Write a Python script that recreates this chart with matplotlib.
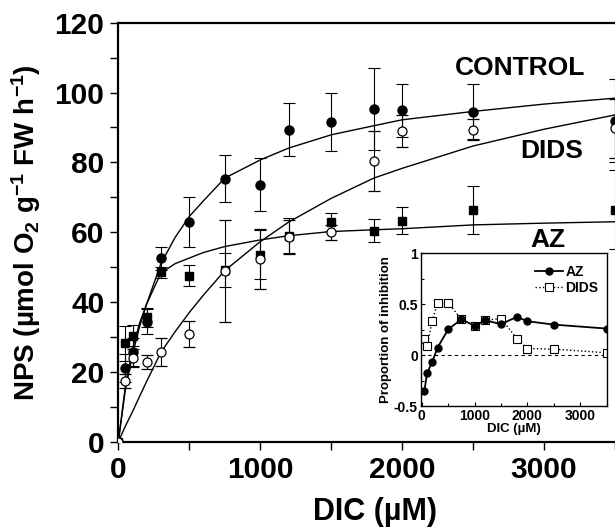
import numpy as np
import matplotlib
matplotlib.use("Agg")
import matplotlib.pyplot as plt
from matplotlib.ticker import MultipleLocator

plt.rcParams['font.family'] = ['Liberation Sans', 'DejaVu Sans']
plt.rcParams['font.weight'] = 'bold'
plt.rcParams['mathtext.default'] = 'regular'

# measured NPS, umol O2 g-1 FW h-1
dic = [0, 50, 100, 200, 300, 500, 750, 1000, 1200, 1500, 1800, 2000, 2500, 3500]
control = [0, 21.0, 25.8, 34.4, 52.6, 62.9, 75.3, 73.6, 89.4, 91.6, 95.3, 94.9, 94.5, 92.0]
control_err = [0, 4.0, 4.0, 3.5, 3.3, 7.1, 6.7, 7.6, 7.6, 8.2, 11.7, 7.6, 7.9, 11.8]
az = [0, 28.2, 30.3, 35.6, 48.5, 47.5, 49.2, 53.5, 59.0, 62.9, 60.4, 63.3, 66.4, 66.5]
az_err = [0, 5.0, 3.0, 2.7, 1.5, 3.0, 4.8, 7.0, 5.0, 2.5, 3.3, 3.9, 6.9, 11.3]
dids = [0, 17.5, 24.0, 22.8, 25.7, 30.9, 49.0, 52.3, 58.6, 60.0, 80.4, 89.0, 89.3, 89.8]
dids_err = [0, 2.0, 2.5, 2.0, 4.0, 3.7, 14.6, 8.5, 4.8, 2.2, 8.6, 4.5, 3.0, 8.5]

# fitted curves
fit_x = [0, 50, 100, 150, 200, 300, 400, 500, 600, 750, 1000, 1200, 1500, 1800, 2000, 2500, 3000, 3500]
control_fit = [0, 15, 25, 33, 39.5, 51, 58.5, 64.5, 69, 75.5, 80.7, 84.1, 87.9, 90.5, 92.2, 94.6, 96.7, 98.4]
az_fit = [0, 16, 26.5, 34, 39.5, 48.3, 51, 52.6, 54.2, 55.9, 57.8, 59.0, 60.2, 60.7, 61.0, 62.1, 62.6, 63.0]
dids_fit = [0, 4.5, 8.6, 13, 17.3, 25.6, 31.5, 37, 42, 49, 57.3, 62.9, 69.7, 75.5, 78.3, 84.7, 89.5, 93.6]

# inset: proportion of inhibition
inh_x = [50, 100, 200, 300, 500, 750, 1000, 1200, 1500, 1800, 2000, 2500, 3500]
inh_az = [-0.353, -0.18, -0.065, 0.075, 0.252, 0.353, 0.288, 0.343, 0.304, 0.376, 0.333, 0.30, 0.261]
inh_dids = [0.16, 0.088, 0.337, 0.516, 0.516, 0.353, 0.288, 0.343, 0.36, 0.163, 0.065, 0.059, 0.023]

fig = plt.figure(figsize=(6.15, 5.29), dpi=100)
ax = fig.add_axes([0.1924, 0.165, 0.8076, 0.792])

ax.plot(fit_x, control_fit, color='black', lw=1.0, zorder=2)
ax.plot(fit_x, az_fit, color='black', lw=1.0, zorder=2)
ax.plot(fit_x, dids_fit, color='black', lw=1.0, zorder=2)

ekw = dict(ecolor='black', elinewidth=0.8, capsize=4, capthick=0.8, ls='none', zorder=3)
ax.errorbar(dic, control, yerr=control_err, fmt='o', mfc='black', mec='black', ms=6.5, **ekw)
ax.errorbar(dic, az, yerr=az_err, fmt='s', mfc='black', mec='black', ms=6, **ekw)
ax.errorbar(dic, dids, yerr=dids_err, fmt='o', mfc='white', mec='black', mew=0.9, ms=6.5, **ekw)

ax.set_xlim(0, 3500)
ax.set_ylim(0, 120)
ax.xaxis.set_major_locator(MultipleLocator(1000))
ax.xaxis.set_minor_locator(MultipleLocator(500))
ax.yaxis.set_major_locator(MultipleLocator(20))
ax.yaxis.set_minor_locator(MultipleLocator(10))
ax.tick_params(which='both', direction='out', width=1, labelsize=21.5, top=False, right=False)
ax.tick_params(which='major', length=6, pad=4)
ax.tick_params(which='minor', length=6)
for s in ['left', 'bottom', 'top']:
    ax.spines[s].set_linewidth(1.6)
ax.spines['right'].set_visible(False)
for lab in ax.get_xticklabels() + ax.get_yticklabels():
    lab.set_fontweight('bold')

ax.set_xlabel('DIC (µM)', fontsize=22, fontweight='bold')
ax.xaxis.set_label_coords(0.517, -0.133)
ax.set_ylabel('NPS (µmol O$_2$ g$^{-1}$ FW h$^{-1}$)', fontsize=20, fontweight='bold', labelpad=8)

ax.text(2829, 107.1, 'CONTROL', fontsize=19, fontweight='bold', ha='center', va='center')
ax.text(3052, 83.3, 'DIDS', fontsize=19, fontweight='bold', ha='center', va='center')
ax.text(3026, 57.7, 'AZ', fontsize=19, fontweight='bold', ha='center', va='center')

# inset
ins = fig.add_axes([0.684, 0.2325, 0.3025, 0.2885])
ins.axhline(0, color='black', lw=0.8, ls=(0, (3, 3)), zorder=1)
ins.plot(inh_x, inh_az, color='black', lw=1.3, marker='o', ms=5, mfc='black', label='AZ', zorder=3)
ins.plot(inh_x, inh_dids, color='black', lw=1.0, ls=':', marker='s', ms=6,
         mfc='white', mec='black', mew=0.8, label='DIDS', zorder=2)
ins.set_xlim(-20, 3500)
ins.set_ylim(-0.5, 1)
ins.set_xticks([0, 1000, 2000, 3000])
ins.set_yticks([-0.5, 0, 0.5, 1])
ins.set_yticklabels(['-0.5', '0', '0.5', '1'])
ins.xaxis.set_minor_locator(MultipleLocator(500))
ins.yaxis.set_minor_locator(MultipleLocator(0.25))
ins.tick_params(which='both', direction='in', width=0.8, labelsize=10, pad=2)
ins.tick_params(which='major', length=3)
ins.tick_params(which='minor', length=2)
for s in ins.spines.values():
    s.set_linewidth(1.0)
for lab in ins.get_xticklabels() + ins.get_yticklabels():
    lab.set_fontweight('bold')
ins.set_xlabel('DIC (µM)', fontsize=9.5, fontweight='bold', labelpad=0)
ins.set_ylabel('Proportion of inhibition', fontsize=9.5, fontweight='bold', labelpad=1)
leg = ins.legend(loc='upper right', bbox_to_anchor=(1.0, 0.98), frameon=False,
                 prop=dict(size=10, weight='bold'), handlelength=2.0, handletextpad=0.2,
                 labelspacing=0.15, borderaxespad=0.2)

fig.savefig('out.png', dpi=100)
